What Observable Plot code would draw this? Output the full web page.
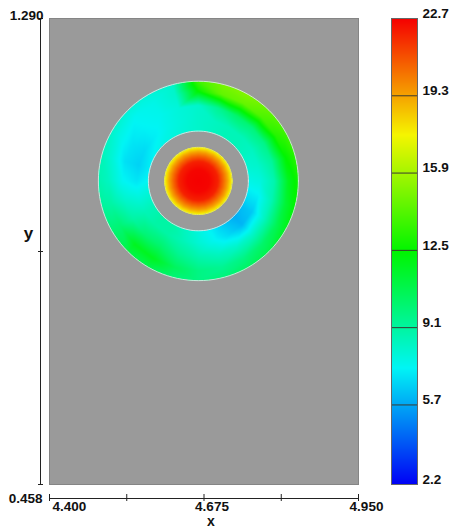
<!DOCTYPE html>
<html><head><meta charset="utf-8">
<script src="https://cdn.jsdelivr.net/npm/d3@7"></script>
<script src="https://cdn.jsdelivr.net/npm/@observablehq/plot@0.6"></script>
<style>
body{margin:0;background:#fff;}
#wrap{display:flex;width:455px;height:528px;}
svg{font-family:"Liberation Sans",Arial,Helvetica,sans-serif;}
</style></head><body><div id="wrap"></div>
<script>
// ---- axes & ticks ----
const xDomain = [4.400, 4.950];
const yDomain = [0.458, 1.290];
const xTicks = [4.400, 4.5375, 4.675, 4.8125, 4.950];
const xTickLabels = ["4.400", "4.675", "4.950"];
const yTicks = [0.458, 0.874, 1.290];
const yTickLabels = ["1.290", "0.458"];
const colorDomain = [2.2, 22.7];
const colorTickLabels = ["2.2", "5.7", "9.1", "12.5", "15.9", "19.3", "22.7"];

// ---- geometry (data units) ----
const center = {x: 4.665, y: 1.000};
const diskRadius = 0.060;
const ringInner = 0.089;
const ringOuter = 0.178;

const angles = [0,15,30,45,60,75,90,105,120,135,150,165,180,195,210,225,240,255,270,285,300,315,330,345];
const ringRadii = [0.089, 0.11, 0.135, 0.16, 0.178];
const ring089 = [7.6,8.0,8.4,8.6,8.6,8.4,8.2,8.0,7.8,7.6,7.4,7.2,7.4,8.0,8.6,9.0,9.0,8.4,7.8,7.2,6.4,5.8,6.2,7.0];
const ring110 = [7.8,8.2,8.4,8.6,8.6,8.4,8.2,7.9,7.6,7.2,6.8,6.6,7.0,7.8,8.6,9.0,9.0,8.6,8.0,7.4,6.7,6.0,6.4,7.2];
const ring135 = [8.8,9.2,9.6,9.9,10.2,9.4,8.2,7.9,7.5,7.3,7.0,6.9,7.4,8.2,9.0,10.0,10.2,9.4,8.8,8.4,8.2,8.2,8.4,8.7];
const ring160 = [11.8,12.4,13.2,14.0,14.6,14.5,12.5,8.2,7.6,7.4,7.6,8.0,8.4,9.0,10.0,11.8,11.8,10.5,9.7,9.4,9.7,10.2,10.7,11.3];
const ring178 = [12.8,13.3,13.8,14.5,15.2,15.0,13.8,8.2,7.9,7.9,8.2,8.6,8.8,9.2,10.0,11.0,10.8,10.0,9.7,9.9,10.4,10.9,11.8,12.4];
const ringValues = [ring089, ring110, ring135, ring160, ring178];
const diskRadii = [0.02, 0.035, 0.045, 0.052, 0.060];
const diskValues = [22.6, 22.0, 20.5, 19.3, 17.5];
const centerValue = 22.7;

// build sample table
const rad = d => d * Math.PI / 180;
const samples = [{x: center.x, y: center.y, v: centerValue, r: 0, a: 0}];
diskRadii.forEach((r, k) => angles.forEach(a => samples.push({
  x: center.x + r * Math.cos(rad(a)), y: center.y + r * Math.sin(rad(a)), v: diskValues[k], r, a})));
ringRadii.forEach((r, k) => angles.forEach((a, j) => samples.push({
  x: center.x + r * Math.cos(rad(a)), y: center.y + r * Math.sin(rad(a)), v: ringValues[k][j], r, a})));

const bary = Plot.interpolatorBarycentric();
function maskedInterpolate(index, w, h, X, Y, V) {
  const out = bary(index, w, h, X, Y, V);
  const iE = samples.findIndex(d => d.r === ringOuter && d.a === 0);
  const iN = samples.findIndex(d => d.r === ringOuter && d.a === 90);
  const cx = X[0], cy = Y[0];
  const sx = (X[iE] - cx) / ringOuter, sy = (cy - Y[iN]) / ringOuter;
  for (let j = 0; j < h; ++j) for (let i = 0; i < w; ++i) {
    const dx = (i + 0.5 - cx) / sx, dy = (cy - (j + 0.5)) / sy;
    const r = Math.hypot(dx, dy);
    if (r > ringOuter || (r > diskRadius && r < ringInner)) out[j * w + i] = NaN;
  }
  return out;
}

const outlineAngles = d3.range(0, 361, 3);
const circle = R => outlineAngles.map(a => ({x: center.x + R * Math.cos(rad(a)), y: center.y + R * Math.sin(rad(a))}));

const jet = t => d3.hsl(240 * (1 - t), 1, 0.48).formatHex();
const font = {fontFamily: "'Liberation Sans', Arial, sans-serif", fontSize: "13.5px", color: "#111", background: "transparent"};
const B = "bold";

const main = Plot.plot({
  width: 385, height: 528,
  marginLeft: 49, marginRight: 27, marginTop: 18, marginBottom: 44,
  x: {domain: xDomain, label: null},
  y: {domain: yDomain, label: null},
  color: {type: "linear", domain: colorDomain, interpolate: jet},
  style: font,
  marks: [
    Plot.frame({fill: "#9a9a9a", stroke: "#858585"}),
    Plot.raster(samples, {x: "x", y: "y", fill: "v",
      x1: xDomain[0], x2: xDomain[1], y1: yDomain[0], y2: yDomain[1],
      interpolate: maskedInterpolate}),
    Plot.line(circle(ringOuter), {x: "x", y: "y", stroke: "#e6f4f2", strokeWidth: 0.9, strokeOpacity: 0.85}),
    Plot.line(circle(ringInner), {x: "x", y: "y", stroke: "#e6f4f2", strokeWidth: 0.9, strokeOpacity: 0.85}),
    Plot.line(circle(diskRadius), {x: "x", y: "y", stroke: "#ecec50", strokeWidth: 1}),
    Plot.ruleX([xDomain[0]], {y1: yDomain[0], y2: yDomain[1], dx: -9, stroke: "#222"}),
    Plot.axisY(yTicks, {tickSize: 5, dx: -6, tickFormat: () => "", label: null, stroke: "#222"}),
    Plot.ruleY([yDomain[0]], {x1: xDomain[0], x2: xDomain[1], dy: 14, stroke: "#222"}),
    Plot.axisX(xTicks, {tickSize: 7, dy: 10, tickFormat: () => "", label: null, stroke: "#222"}),
    Plot.text([yTickLabels[0]], {x: xDomain[0], y: d => +d, text: d => d, dx: -6, dy: -3, textAnchor: "end", fontWeight: B}),
    Plot.text([yTickLabels[1]], {x: xDomain[0], y: d => +d, text: d => d, dx: -7, dy: 14, textAnchor: "end", fontWeight: B}),
    Plot.text([xTickLabels[0]], {x: d => +d, y: yDomain[0], text: d => d, dx: 3, dy: 22.5, textAnchor: "start", fontWeight: B}),
    Plot.text(xTickLabels.slice(1), {x: d => +d, y: yDomain[0], text: d => d, dx: 8, dy: 22.5, textAnchor: "middle", fontWeight: B}),
    Plot.text(["x"], {x: 4.675, y: yDomain[0], text: d => d, dx: 7, dy: 37, fontSize: 14, fontWeight: B}),
    Plot.text(["y"], {x: xDomain[0], y: 0.874, text: d => d, dx: -21, dy: -18, fontSize: 17, fontWeight: B})
  ]
});

const bar = Plot.plot({
  width: 70, height: 528,
  marginLeft: 6, marginRight: 38, marginTop: 18, marginBottom: 44,
  x: {domain: [0, 1], axis: null},
  y: {domain: colorDomain, axis: null},
  color: {type: "linear", domain: colorDomain, interpolate: jet},
  style: font,
  marks: [
    Plot.raster({fill: (x, y) => y, x1: 0, x2: 1, y1: colorDomain[0], y2: colorDomain[1]}),
    Plot.ruleY(colorTickLabels.slice(1, -1), {y: d => +d, x1: 0, x2: 1, stroke: "#3a3a30"}),
    Plot.frame({stroke: "#666"}),
    Plot.text(colorTickLabels, {x: 1, y: d => +d, text: d => d, dx: 5, dy: -5, textAnchor: "start", fontWeight: B})
  ]
});

document.getElementById("wrap").append(main, bar);
</script></body></html>
